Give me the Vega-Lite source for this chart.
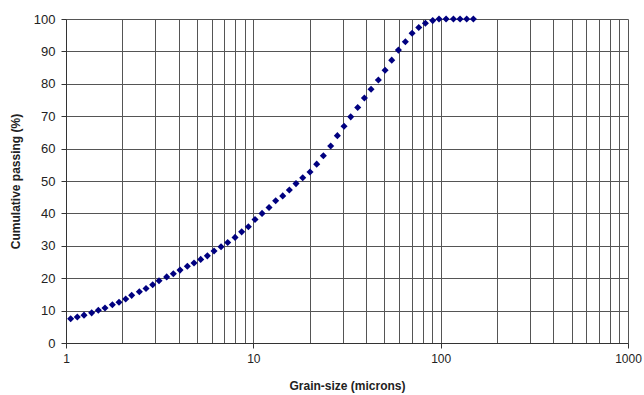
{
  "$schema": "https://vega.github.io/schema/vega-lite/v6.json",
  "autosize": {"type": "none"},
  "padding": {"left": 66, "top": 19, "right": 16, "bottom": 52},
  "width": 562,
  "height": 324,
  "background": "white",
  "config": {
    "font": "Liberation Sans",
    "view": {"stroke": null},
    "axis": {"labelFont": "Liberation Sans", "titleFont": "Liberation Sans"}
  },
  "data": {
    "values": [
      {"size": 1.059, "passing": 7.5},
      {"size": 1.149, "passing": 8.0},
      {"size": 1.248, "passing": 8.6},
      {"size": 1.371, "passing": 9.3},
      {"size": 1.488, "passing": 10.1},
      {"size": 1.615, "passing": 10.8},
      {"size": 1.768, "passing": 11.8},
      {"size": 1.919, "passing": 12.6},
      {"size": 2.083, "passing": 13.6},
      {"size": 2.242, "passing": 14.7},
      {"size": 2.463, "passing": 15.8},
      {"size": 2.674, "passing": 16.8},
      {"size": 2.902, "passing": 18.0},
      {"size": 3.137, "passing": 19.2},
      {"size": 3.447, "passing": 20.4},
      {"size": 3.741, "passing": 21.4},
      {"size": 4.062, "passing": 22.5},
      {"size": 4.444, "passing": 23.7},
      {"size": 4.824, "passing": 24.7},
      {"size": 5.236, "passing": 25.8},
      {"size": 5.683, "passing": 26.9},
      {"size": 6.17, "passing": 28.4},
      {"size": 6.724, "passing": 29.7},
      {"size": 7.298, "passing": 31.0},
      {"size": 7.988, "passing": 32.6},
      {"size": 8.667, "passing": 34.3},
      {"size": 9.408, "passing": 35.9},
      {"size": 10.21, "passing": 38.1},
      {"size": 11.13, "passing": 40.0},
      {"size": 12.13, "passing": 41.8},
      {"size": 13.16, "passing": 43.9},
      {"size": 14.35, "passing": 45.4},
      {"size": 15.57, "passing": 47.2},
      {"size": 16.9, "passing": 49.2},
      {"size": 18.35, "passing": 51.0},
      {"size": 20.07, "passing": 52.8},
      {"size": 21.79, "passing": 55.2},
      {"size": 23.65, "passing": 57.8},
      {"size": 25.88, "passing": 60.8},
      {"size": 28.09, "passing": 64.0},
      {"size": 30.5, "passing": 66.9},
      {"size": 33.1, "passing": 69.8},
      {"size": 36.07, "passing": 72.7},
      {"size": 39.16, "passing": 75.6},
      {"size": 42.5, "passing": 78.3},
      {"size": 46.5, "passing": 81.2},
      {"size": 50.5, "passing": 84.2},
      {"size": 54.8, "passing": 87.3},
      {"size": 59.5, "passing": 90.4},
      {"size": 64.8, "passing": 93.0},
      {"size": 70.4, "passing": 95.6},
      {"size": 76.4, "passing": 97.4},
      {"size": 82.9, "passing": 98.7},
      {"size": 90.7, "passing": 99.5},
      {"size": 98.0, "passing": 100},
      {"size": 106.9, "passing": 100},
      {"size": 117.0, "passing": 100},
      {"size": 126.9, "passing": 100},
      {"size": 137.7, "passing": 100},
      {"size": 149.5, "passing": 100}
    ]
  },
  "mark": {"type": "point", "shape": "diamond", "filled": true, "color": "#000080", "size": 50, "opacity": 1},
  "encoding": {
    "x": {
      "field": "size",
      "type": "quantitative",
      "scale": {"type": "log", "domain": [1, 1000], "nice": false},
      "axis": {
        "title": "Grain-size (microns)",
        "titleFontSize": 12,
        "titleFontWeight": "bold",
        "titleColor": "#222222",
        "titlePadding": 16,
        "values": [1,2,3,4,5,6,7,8,9,10,20,30,40,50,60,70,80,90,100,200,300,400,500,600,700,800,900,1000],
        "labelExpr": "indexof([1,10,100,1000], datum.value) >= 0 ? datum.label : ''",
        "format": "d",
        "labelFontSize": 12,
        "labelColor": "#222222",
        "labelPadding": 5,
        "labelFlush": false,
        "labelOverlap": false,
        "tickSize": 5,
        "tickColor": "#333333",
        "tickOpacity": {"condition": {"test": "indexof([1,10,100,1000], datum.value) >= 0", "value": 1}, "value": 0},
        "domainColor": "#333333",
        "domainWidth": 1,
        "grid": true,
        "gridColor": "#555555",
        "gridWidth": 1,
        "gridOpacity": 1
      }
    },
    "y": {
      "field": "passing",
      "type": "quantitative",
      "scale": {"domain": [0, 100], "nice": false},
      "axis": {
        "title": "Cumulative passing (%)",
        "titleFontSize": 12,
        "titleFontWeight": "bold",
        "titleColor": "#222222",
        "titlePadding": 11,
        "values": [0,10,20,30,40,50,60,70,80,90,100],
        "labelFontSize": 13,
        "labelColor": "#222222",
        "labelPadding": 6,
        "tickSize": 5,
        "tickColor": "#333333",
        "domainColor": "#333333",
        "grid": true,
        "gridColor": "#555555",
        "gridOpacity": 1
      }
    }
  }
}
